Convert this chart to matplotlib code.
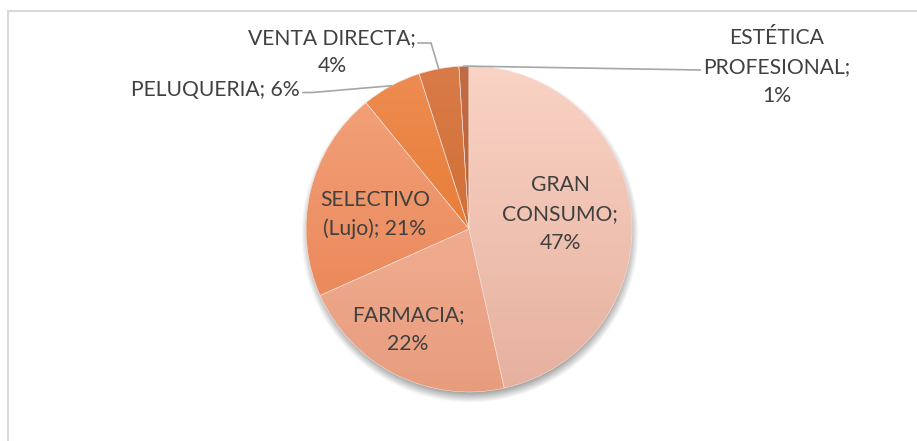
import numpy as np
import matplotlib.pyplot as plt
from matplotlib.lines import Line2D
from matplotlib.colors import to_rgb
from matplotlib.textpath import TextPath
from matplotlib.font_manager import FontProperties

# datos del gráfico
categorias = ['GRAN CONSUMO', 'FARMACIA', 'SELECTIVO (Lujo)', 'PELUQUERIA',
              'VENTA DIRECTA', 'ESTÉTICA PROFESIONAL']
valores = [47, 22, 21, 6, 4, 1]
etiquetas = [['GRAN', 'CONSUMO;', '47%'], ['FARMACIA;', '22%'], ['SELECTIVO', '(Lujo); 21%'],
             ['PELUQUERIA; 6%'], ['VENTA DIRECTA;', '4%'], ['ESTÉTICA', 'PROFESIONAL;', '1%']]
# degradado (arriba, abajo) de cada porción
colores = [('#F9D3C5', '#E6B09E'), ('#F8BCA0', '#E89C7E'), ('#F3A47E', '#E87E4C'),
           ('#EE8C52', '#E2701E'), ('#D97B48', '#C96424'), ('#C26C47', '#B25A26')]

W, H = 917, 441
fig = plt.figure(figsize=(W / 100, H / 100), dpi=100)
ax = fig.add_axes([0, 0, 1, 1])

cx, cy, r = 469, H - 229, 163
wedges, _ = ax.pie(valores, startangle=90, counterclock=False, center=(cx, cy),
                   radius=r, wedgeprops=dict(linewidth=0.4, edgecolor='#F6E2DA'))

# relleno con degradado vertical
t = np.linspace(0, 1, 256)[:, None]
for w, (c1, c2) in zip(wedges, colores):
    a, b = np.array(to_rgb(c1)), np.array(to_rgb(c2))
    img = (a[None, None, :] * (1 - t[..., None]) + b[None, None, :] * t[..., None])
    img = np.repeat(img, 2, axis=1)
    im = ax.imshow(img, extent=(cx - r, cx + r, cy - r, cy + r), aspect='auto',
                   zorder=w.get_zorder() - 0.1, interpolation='bilinear')
    im.set_clip_path(w)
    w.set_facecolor('none')

# sombra difusa bajo el círculo
n = 500
xs = np.linspace(cx - r - 30, cx + r + 30, n)
ys = np.linspace(cy - r - 30, cy + r + 30, n)
X, Y = np.meshgrid(xs, ys)
d = np.hypot(X - (cx + 1), Y - (cy - 5))
alpha = np.clip((r + 6 - d) / 12, 0, 1) * 0.55
sh = np.zeros((n, n, 4))
sh[..., :3] = 0.25
sh[..., 3] = alpha
ax.imshow(sh, extent=(xs[0], xs[-1], ys[0], ys[-1]), origin='lower',
          aspect='auto', zorder=0.5)

ax.set_xlim(0, W)
ax.set_ylim(0, H)
ax.axis('off')

# tamaño de letra para que 'PELUQUERIA; 6%' mida ~167 px como en el original
fp = FontProperties(family='Lato')
ancho = TextPath((0, 0), 'PELUQUERIA; 6%', size=100, prop=fp).get_extents().width
tam = 100 * 167 / ancho * 0.72
fuente = dict(family=['Lato', 'DejaVu Sans'], fontsize=tam, color='#404040')


def rotulo(x, bases, lineas, ha='center'):
    # una línea de texto por cada renglón, alineada sobre su línea base
    for yb, txt in zip(bases, lineas):
        ax.text(x, H - yb, txt, ha=ha, va='baseline', **fuente)


# etiquetas dentro de las porciones
rotulo(560, [191, 220, 249], etiquetas[0])
rotulo(408, [321, 350], etiquetas[1])
rotulo(375, [206, 235], etiquetas[2])

# etiquetas exteriores con líneas guía
cum = np.cumsum(valores) - np.array(valores) / 2
ang = np.deg2rad(90 - 360 * cum / sum(valores))
borde = [(cx + r * np.cos(a), cy + r * np.sin(a)) for a in ang]

gris = '#A6A6A6'
rotulo(300, [96], etiquetas[3], ha='right')
x0, y0 = borde[3]
ax.add_line(Line2D([x0, 312, 303], [y0, H - 92.5, H - 92.5], color=gris, lw=1.2))

rotulo(332, [44, 72], etiquetas[4])
x0, y0 = borde[4]
ax.add_line(Line2D([x0, 431, 418], [y0, H - 43, H - 43], color=gris, lw=1.2))

rotulo(777, [44, 73, 102], etiquetas[5])
x0, y0 = borde[5]
ax.add_line(Line2D([x0, 700], [y0, H - 70], color=gris, lw=1.2))

# marco del área del gráfico
marco = '#D9D9D9'
fig.add_artist(Line2D([7.5 / W, 7.5 / W], [0, 1 - 10.5 / H], color=marco, lw=1.5,
                      transform=fig.transFigure))
fig.add_artist(Line2D([7.5 / W, 1], [1 - 10.5 / H, 1 - 10.5 / H], color=marco, lw=1.5,
                      transform=fig.transFigure))

fig.savefig('out.png', dpi=100, facecolor='white')
